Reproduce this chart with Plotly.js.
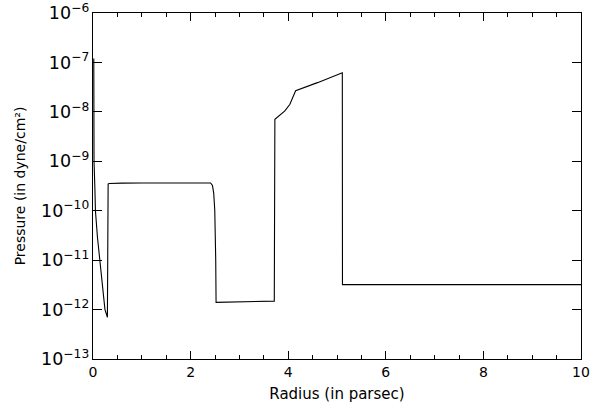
<!DOCTYPE html>
<html>
<head>
<meta charset="utf-8">
<script src="https://cdn.plot.ly/plotly-3.0.1.min.js"></script>
<style>
  html, body { margin: 0; padding: 0; background: #fff; }
  #chart { width: 591px; height: 408px; }
</style>
</head>
<body>
<div id="chart"></div>
<script>
// Pressure profile against radius
const radius = [
  0.016, 0.018, 0.021, 0.037, 0.05, 0.09, 0.14, 0.19, 0.245, 0.295,
  0.300, 0.31, 0.33, 0.40, 0.6, 1.0, 1.5, 2.0, 2.41,
  2.448, 2.474, 2.495, 2.509, 2.515, 2.522,
  3.0, 3.5, 3.715,
  3.727, 3.83, 3.932, 4.035, 4.103, 4.152,
  4.6, 5.109,
  5.112, 7.0, 10.0
];
const pressure = [
  1.2e-7, 1.0e-8, 1.0e-9, 3.2e-10, 1.0e-10, 3.0e-11, 1.0e-11, 3.2e-12, 1.0e-12, 7.0e-13,
  3.2e-10, 3.45e-10, 3.55e-10, 3.6e-10, 3.62e-10, 3.63e-10, 3.64e-10, 3.64e-10, 3.64e-10,
  3.24e-10, 2.24e-10, 1.02e-10, 3.5e-11, 1.0e-11, 1.4e-12,
  1.42e-12, 1.45e-12, 1.48e-12,
  7.1e-9, 8.5e-9, 1.05e-8, 1.42e-8, 2.02e-8, 2.67e-8,
  3.9e-8, 6.2e-8,
  3.2e-12, 3.2e-12, 3.2e-12
];

const xTitle = 'Radius (in parsec)';
const yTitle = 'Pressure (in dyne/cm²)';

const baseFont = { family: 'DejaVu Sans, sans-serif', size: 14, color: '#000' };
const xTitleFont = { family: 'DejaVu Sans, sans-serif', size: 15, color: '#000' };

const trace = {
  x: radius,
  y: pressure,
  type: 'scatter',
  mode: 'lines',
  line: { color: '#000', width: 1.1 },
  hoverinfo: 'skip'
};

const layout = {
  width: 591,
  height: 408,
  margin: { l: 93, r: 10, t: 13, b: 49 },
  paper_bgcolor: '#fff',
  plot_bgcolor: '#fff',
  showlegend: false,
  font: baseFont,
  xaxis: {
    range: [0, 10],
    dtick: 2,
    tick0: 0,
    ticks: 'inside',
    ticklen: 8,
    tickwidth: 1,
    tickcolor: '#000',
    minor: { dtick: 0.5, tick0: 0, ticks: 'inside', ticklen: 4, tickwidth: 1, tickcolor: '#000' },
    showline: true,
    linecolor: '#000',
    linewidth: 1,
    mirror: 'ticks',
    showgrid: false,
    zeroline: false,
    tickfont: baseFont,
    title: { text: xTitle, font: xTitleFont, standoff: 9 }
  },
  yaxis: {
    type: 'log',
    range: [-13, -6],
    dtick: 1,
    exponentformat: 'power',
    ticks: 'inside',
    ticklen: 9,
    tickwidth: 1,
    tickcolor: '#000',
    showline: true,
    linecolor: '#000',
    linewidth: 1,
    mirror: 'ticks',
    showgrid: false,
    zeroline: false,
    tickfont: baseFont,
    title: { text: yTitle, font: baseFont, standoff: 12 }
  }
};

Plotly.newPlot('chart', [trace], layout, { staticPlot: true, displayModeBar: false });
</script>
</body>
</html>
